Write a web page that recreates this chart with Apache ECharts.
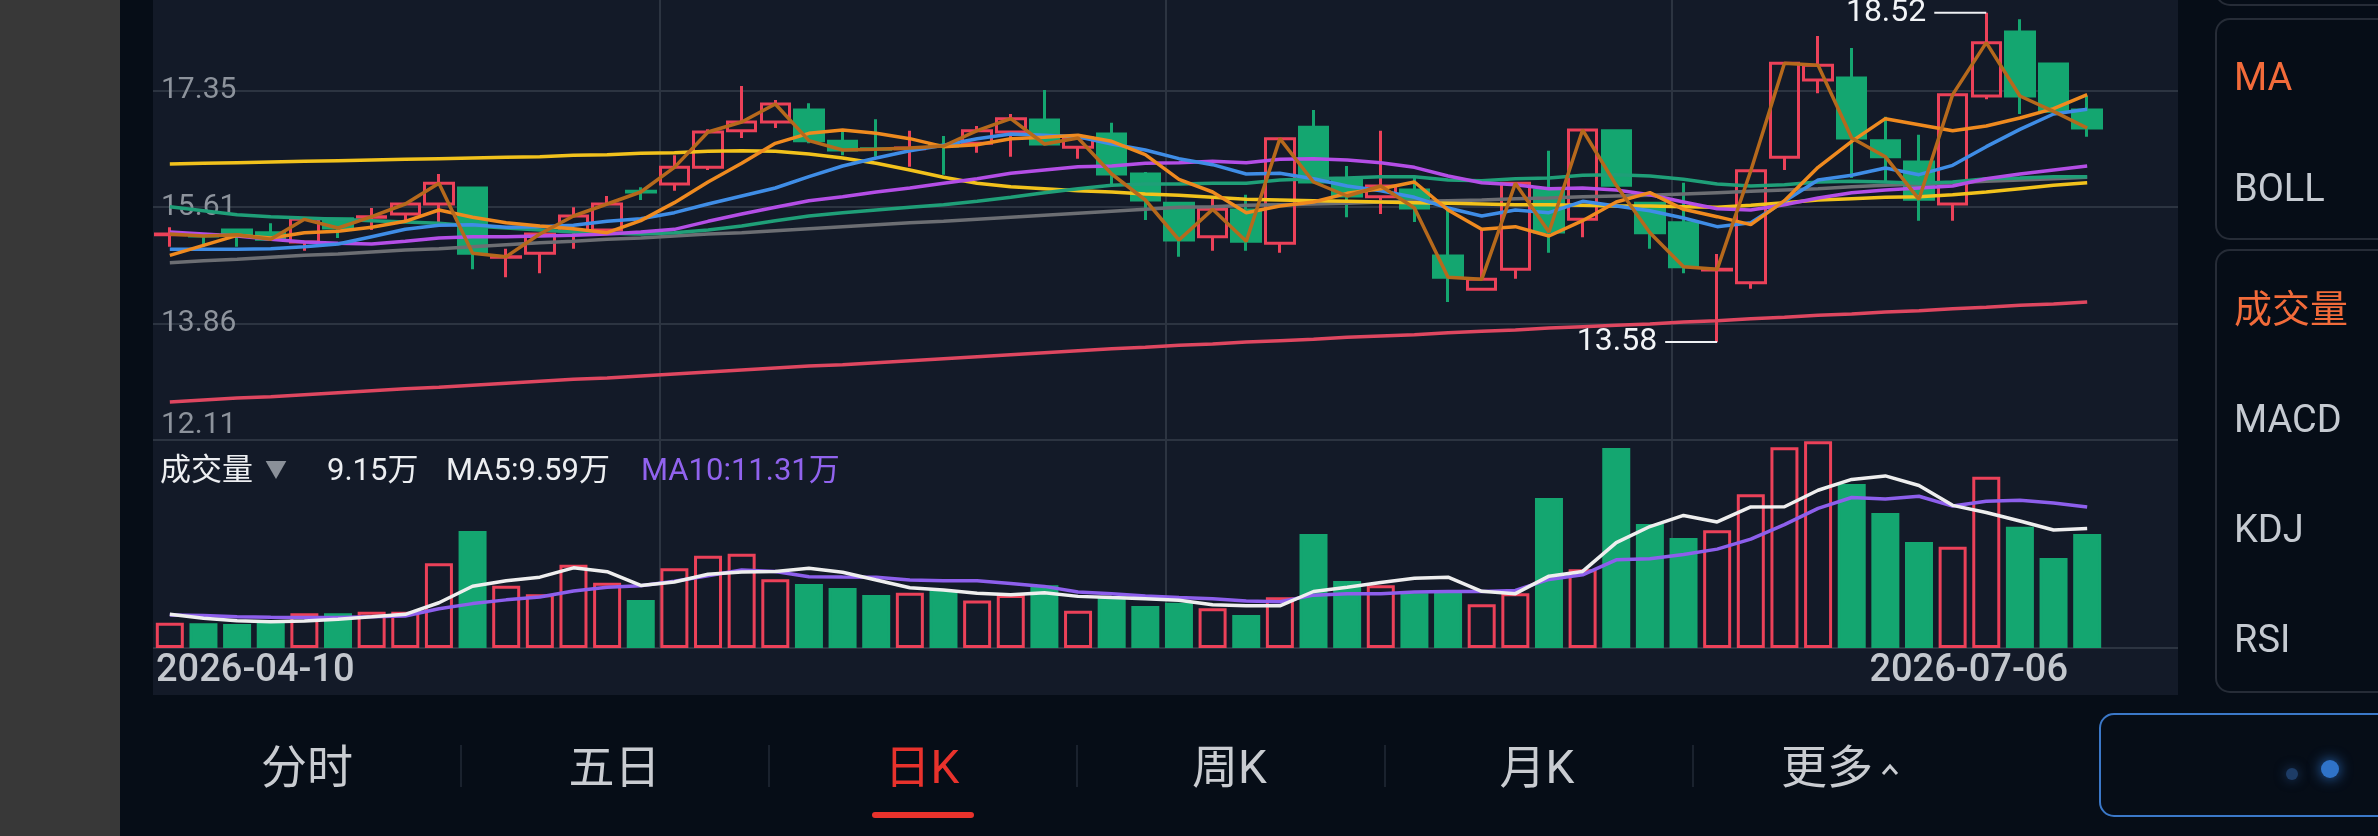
<!DOCTYPE html>
<html lang="zh-CN">
  <head>
    <meta charset="UTF-8" />
    <title>日K 成交量</title>
    <script src="https://cdn.jsdelivr.net/npm/echarts@6/dist/echarts.min.js"></script>
    <style>
      html, body { margin: 0; padding: 0; background: #060d17; }
      #app { width: 2378px; height: 836px; }
    </style>
  </head>
  <body>
    <div id="app"></div>
    <script>
      // trading days shown on screen
      const dates = [
        "2026-04-10", "2026-04-13", "2026-04-14", "2026-04-15", "2026-04-16", "2026-04-17",
        "2026-04-20", "2026-04-21", "2026-04-22", "2026-04-23", "2026-04-24", "2026-04-27",
        "2026-04-28", "2026-04-29", "2026-04-30", "2026-05-06", "2026-05-07", "2026-05-08",
        "2026-05-11", "2026-05-12", "2026-05-13", "2026-05-14", "2026-05-15", "2026-05-18",
        "2026-05-19", "2026-05-20", "2026-05-21", "2026-05-22", "2026-05-25", "2026-05-26",
        "2026-05-27", "2026-05-28", "2026-05-29", "2026-06-01", "2026-06-02", "2026-06-03",
        "2026-06-04", "2026-06-05", "2026-06-08", "2026-06-09", "2026-06-10", "2026-06-11",
        "2026-06-12", "2026-06-15", "2026-06-16", "2026-06-17", "2026-06-18", "2026-06-22",
        "2026-06-23", "2026-06-24", "2026-06-25", "2026-06-26", "2026-06-29", "2026-06-30",
        "2026-07-01", "2026-07-02", "2026-07-03", "2026-07-06"
      ];

      const opens = [15.19, 15.19, 15.26, 15.22, 15.08, 15.43, 15.45, 15.50, 15.65, 15.89,
        14.85, 14.91, 15.25, 15.26, 15.84, 15.95, 16.20, 16.75, 16.88, 17.06,
        16.59, 16.48, 16.48, 16.53, 16.56, 16.73, 16.91, 16.50, 16.70, 16.10,
        15.66, 15.16, 15.56, 15.06, 16.80, 16.01, 15.76, 15.86, 14.87, 14.37,
        14.67, 15.86, 15.42, 16.75, 15.66, 15.37, 14.66, 14.47, 16.35, 17.51,
        17.54, 16.60, 16.28, 15.65, 17.27, 18.23, 17.75, 17.06];
      const highs = [15.30, 15.20, 15.26, 15.36, 15.45, 15.43, 15.59, 15.65, 16.10, 15.89,
        14.98, 15.20, 15.60, 15.77, 15.90, 16.38, 16.77, 17.42, 17.21, 17.16,
        16.75, 16.92, 16.75, 16.67, 16.82, 17.00, 17.36, 16.70, 16.87, 16.13,
        15.68, 15.73, 15.79, 16.63, 17.06, 16.22, 16.75, 16.04, 15.56, 15.26,
        15.97, 16.45, 16.76, 16.75, 15.67, 15.97, 14.90, 16.15, 17.76, 18.17,
        17.99, 16.96, 16.69, 17.29, 18.52, 18.42, 17.75, 17.27];
      const lows = [15.01, 15.01, 15.01, 15.12, 14.95, 15.14, 15.26, 15.41, 15.38, 14.67,
        14.55, 14.61, 14.98, 15.26, 15.71, 15.85, 16.16, 16.64, 16.79, 16.56,
        16.38, 16.36, 16.21, 16.09, 16.42, 16.36, 16.55, 16.33, 15.91, 15.41,
        14.86, 14.95, 14.95, 14.92, 15.98, 15.45, 15.50, 15.38, 14.18, 14.37,
        14.53, 14.92, 15.15, 15.93, 14.98, 14.61, 13.58, 14.38, 16.16, 17.31,
        16.04, 15.98, 15.40, 15.40, 17.22, 17.00, 17.04, 16.66];
      const closes = [15.20, 15.17, 15.19, 15.12, 15.42, 15.29, 15.46, 15.65, 15.96, 14.91,
        14.86, 15.20, 15.47, 15.65, 15.83, 16.20, 16.73, 16.88, 17.15, 16.60,
        16.46, 16.47, 16.49, 16.52, 16.75, 16.93, 16.55, 16.64, 16.10, 15.71,
        15.11, 15.57, 15.09, 16.63, 15.98, 15.77, 15.92, 15.59, 14.55, 14.52,
        15.96, 15.23, 16.76, 15.93, 15.22, 14.71, 14.67, 16.15, 17.76, 17.73,
        16.64, 16.36, 15.72, 17.29, 18.07, 17.27, 17.04, 16.79];

      const ma5 = [14.88, 15.03, 15.18, 15.14, 15.22, 15.24, 15.30, 15.39, 15.56, 15.45,
        15.37, 15.32, 15.28, 15.22, 15.40, 15.67, 15.98, 16.26, 16.56, 16.71,
        16.76, 16.71, 16.63, 16.51, 16.54, 16.63, 16.65, 16.68, 16.59, 16.39,
        16.02, 15.83, 15.52, 15.62, 15.68, 15.81, 15.88, 15.98, 15.56, 15.27,
        15.31, 15.17, 15.40, 15.68, 15.82, 15.57, 15.46, 15.34, 15.70, 16.20,
        16.59, 16.93, 16.84, 16.75, 16.82, 16.94, 17.08, 17.29];
      const ma10 = [14.97, 14.97, 14.97, 14.98, 15.01, 15.05, 15.16, 15.27, 15.33, 15.34,
        15.30, 15.31, 15.33, 15.39, 15.43, 15.52, 15.65, 15.77, 15.89, 16.06,
        16.22, 16.34, 16.45, 16.53, 16.63, 16.70, 16.68, 16.66, 16.55, 16.46,
        16.33, 16.24, 16.10, 16.11, 16.03, 15.92, 15.85, 15.75, 15.59, 15.47,
        15.56, 15.52, 15.69, 15.62, 15.55, 15.44, 15.31, 15.37, 15.69, 16.01,
        16.08, 16.19, 16.09, 16.23, 16.51, 16.77, 17.00, 17.07];
      const ma20 = [15.23, 15.20, 15.17, 15.12, 15.08, 15.06, 15.05, 15.09, 15.14, 15.16,
        15.16, 15.17, 15.18, 15.20, 15.23, 15.27, 15.39, 15.50, 15.60, 15.70,
        15.76, 15.83, 15.89, 15.96, 16.03, 16.11, 16.16, 16.21, 16.22, 16.26,
        16.27, 16.29, 16.27, 16.32, 16.33, 16.31, 16.27, 16.20, 16.07, 15.97,
        15.94, 15.88, 15.89, 15.86, 15.79, 15.68, 15.58, 15.56, 15.64, 15.74,
        15.82, 15.86, 15.89, 15.92, 16.03, 16.10, 16.16, 16.22];
      const ma30 = [15.61, 15.55, 15.49, 15.46, 15.44, 15.42, 15.40, 15.38, 15.36, 15.32,
        15.29, 15.26, 15.23, 15.21, 15.20, 15.22, 15.26, 15.32, 15.40, 15.47,
        15.52, 15.56, 15.60, 15.64, 15.69, 15.75, 15.82, 15.88, 15.93, 15.95,
        15.95, 15.96, 15.96, 16.01, 16.03, 16.04, 16.06, 16.06, 16.01, 16.00,
        16.03, 16.04, 16.08, 16.09, 16.07, 16.02, 15.95, 15.92, 15.94, 15.98,
        15.99, 15.98, 15.96, 15.98, 16.03, 16.04, 16.06, 16.06];
      const ma60 = [14.77, 14.80, 14.82, 14.85, 14.88, 14.90, 14.93, 14.96, 14.98, 15.01,
        15.04, 15.07, 15.09, 15.12, 15.14, 15.17, 15.20, 15.22, 15.25, 15.28,
        15.31, 15.34, 15.37, 15.39, 15.42, 15.45, 15.48, 15.51, 15.54, 15.57,
        15.60, 15.61, 15.63, 15.64, 15.65, 15.66, 15.68, 15.69, 15.70, 15.71,
        15.73, 15.74, 15.76, 15.77, 15.78, 15.80, 15.82, 15.84, 15.86, 15.88,
        15.91, 15.93, 15.95, 15.97, 15.99, 16.01, 16.03, 16.05];
      const ma120 = [16.25, 16.26, 16.27, 16.28, 16.29, 16.30, 16.31, 16.32, 16.33, 16.34,
        16.35, 16.36, 16.38, 16.39, 16.41, 16.42, 16.44, 16.45, 16.44, 16.40,
        16.34, 16.26, 16.16, 16.05, 15.96, 15.91, 15.88, 15.85, 15.83, 15.80,
        15.78, 15.75, 15.72, 15.71, 15.70, 15.69, 15.68, 15.67, 15.66, 15.65,
        15.64, 15.64, 15.63, 15.62, 15.62, 15.61, 15.60, 15.63, 15.67, 15.71,
        15.73, 15.75, 15.76, 15.79, 15.83, 15.88, 15.93, 15.97];
      const ma250 = [12.68, 12.71, 12.74, 12.76, 12.79, 12.82, 12.85, 12.88, 12.90, 12.93,
        12.96, 12.99, 13.02, 13.04, 13.07, 13.10, 13.13, 13.16, 13.19, 13.22,
        13.24, 13.27, 13.30, 13.33, 13.36, 13.39, 13.42, 13.45, 13.48, 13.50,
        13.53, 13.55, 13.58, 13.60, 13.62, 13.65, 13.67, 13.69, 13.72, 13.74,
        13.76, 13.79, 13.81, 13.83, 13.85, 13.88, 13.90, 13.93, 13.95, 13.98,
        14.00, 14.03, 14.05, 14.08, 14.10, 14.13, 14.15, 14.18];

      // volume in 万
      const volumes = [2.03, 1.98, 1.92, 2.11, 2.78, 2.78, 2.91, 2.91, 6.79, 9.38,
        5.00, 4.31, 6.68, 5.24, 3.85, 6.39, 7.40, 7.56, 5.51, 5.13,
        4.81, 4.25, 4.44, 4.65, 3.80, 4.25, 5.03, 2.99, 4.12, 3.37,
        3.63, 3.18, 2.65, 4.07, 9.14, 5.37, 5.03, 4.39, 4.47, 3.50,
        4.39, 12.03, 6.31, 16.04, 9.94, 8.82, 9.44, 12.33, 16.10, 16.58,
        13.15, 10.83, 8.50, 8.12, 13.74, 9.73, 7.22, 9.15];
      const volMa5 = [2.70, 2.38, 2.19, 2.11, 2.16, 2.31, 2.50, 2.70, 3.63, 4.95,
        5.40, 5.68, 6.43, 6.12, 5.02, 5.29, 5.91, 6.09, 6.14, 6.40,
        6.08, 5.45, 4.83, 4.66, 4.39, 4.28, 4.43, 4.14, 4.04, 3.95,
        3.83, 3.46, 3.39, 3.38, 4.53, 4.88, 5.25, 5.60, 5.68, 4.55,
        4.36, 5.76, 6.14, 8.45, 9.74, 10.63, 10.11, 11.31, 11.33, 12.65,
        13.52, 13.80, 13.03, 11.44, 10.87, 10.18, 9.46, 9.59];
      const volMa10 = [2.65, 2.60, 2.51, 2.47, 2.45, 2.45, 2.51, 2.57, 3.15, 3.56,
        3.86, 4.09, 4.57, 4.88, 4.99, 5.35, 5.80, 6.26, 6.13, 5.71,
        5.69, 5.68, 5.46, 5.40, 5.39, 5.18, 4.94, 4.49, 4.35, 4.17,
        4.05, 3.95, 3.77, 3.71, 4.24, 4.36, 4.36, 4.50, 4.53, 4.54,
        4.62, 5.50, 5.87, 7.07, 7.15, 7.49, 7.93, 8.73, 9.89, 11.20,
        12.07, 11.95, 12.17, 11.38, 11.76, 11.85, 11.63, 11.31];

      const priceTicks = ["12.11", "13.86", "15.61", "17.35", "19.10"];
      const tabs = ["分时", "五日", "日K", "周K", "月K", "更多"];
      const mainIndicators = ["MA", "BOLL"];
      const subIndicators = ["成交量", "MACD", "KDJ", "RSI"];

      const RED = "#ec4159";
      const GREEN = "#14a670";
      const GRID = "#2c3441";
      const FONT = 'Roboto, "Noto Sans CJK SC", sans-serif';

      const chart = echarts.init(document.getElementById("app"));

      function text(x, y, str, size, color, align, weight) {
        return {
          type: "text", x, y, z: 100, silent: true,
          style: {
            text: str, fill: color,
            font: (weight || "normal") + " " + size + "px " + FONT,
            textAlign: align || "left", textVerticalAlign: "middle",
            align: align || "left", verticalAlign: "middle"
          }
        };
      }

      function maLine(data, color, axis) {
        return {
          type: "line", data, xAxisIndex: axis, yAxisIndex: axis,
          symbol: "none", showSymbol: false, silent: true, animation: false,
          lineStyle: { color, width: 3.5 }, itemStyle: { color }, z: 3
        };
      }

      const last = dates.length - 1;
      const graphics = [
        { type: "rect", z: -10, silent: true, shape: { x: 0, y: 0, width: 120, height: 836 }, style: { fill: "#383838" } },
        { type: "rect", z: -10, silent: true, shape: { x: 153, y: 0, width: 2025, height: 695 }, style: { fill: "#131a28" } },
        // indicator boxes
        { type: "rect", z: 1, silent: true, shape: { x: 2216, y: -60, width: 220, height: 65, r: 14 }, style: { fill: "none", stroke: "#262c37", lineWidth: 2 } },
        { type: "rect", z: 1, silent: true, shape: { x: 2216, y: 19, width: 220, height: 220, r: 14 }, style: { fill: "none", stroke: "#262c37", lineWidth: 2 } },
        { type: "rect", z: 1, silent: true, shape: { x: 2216, y: 250, width: 220, height: 442, r: 14 }, style: { fill: "none", stroke: "#262c37", lineWidth: 2 } },
        // volume header
        text(160, 472, "成交量", 31, "#eceef1"),
        text(276, 471, "▼", 22, "#8a9099", "center"),
        text(327, 472, volumes[last].toFixed(2) + "万", 31, "#eceef1"),
        text(446, 472, "MA5:" + volMa5[last].toFixed(2) + "万", 31, "#eceef1"),
        text(641, 472, "MA10:" + volMa10[last].toFixed(2) + "万", 31, "#9163ee"),
        // first / last date
        text(156, 671, dates[0], 38, "#c3c7cd", "left", 500),
        text(2068, 671, dates[last], 38, "#c3c7cd", "right", 500),
        // tab underline
        { type: "rect", z: 5, silent: true, shape: { x: 872, y: 812, width: 102, height: 6, r: 3 }, style: { fill: "#e8322c" } },
        // caret after 更多
        { type: "polyline", z: 5, silent: true, shape: { points: [[1883, 774], [1890, 766], [1897, 774]] }, style: { stroke: "#c9ccd1", lineWidth: 3, fill: "none" } },
        // bottom right box
        { type: "rect", z: 1, silent: true, shape: { x: 2100, y: 714, width: 300, height: 102, r: 14 }, style: { fill: "#060d17", stroke: "#3b78c8", lineWidth: 2 } },
        { type: "circle", z: 2, silent: true, shape: { cx: 2330, cy: 769, r: 9 }, style: { fill: "#2f73c8", shadowBlur: 14, shadowColor: "#2f73c8" } },
        { type: "circle", z: 2, silent: true, shape: { cx: 2292, cy: 774, r: 6 }, style: { fill: "#1d3c66", shadowBlur: 12, shadowColor: "#1d3c66" } }
      ];

      mainIndicators.forEach((t, i) => graphics.push(text(2234, 80 + i * 111, t, 38, i === 0 ? "#f26b3a" : "#c5cad1")));
      subIndicators.forEach((t, i) => graphics.push(text(2234, 312 + i * 110, t, 38, i === 0 ? "#f26b3a" : "#c5cad1")));
      tabs.forEach((t, i) => {
        const cx = i === tabs.length - 1 ? 1827 : 307 + i * 307.5;
        graphics.push(text(cx, 771, t, 46, t === "日K" ? "#e8322c" : "#c9ccd1", "center"));
        if (i < tabs.length - 1) {
          graphics.push({ type: "rect", z: 5, silent: true, shape: { x: 460 + i * 308, y: 745, width: 2, height: 42 }, style: { fill: "#1a222e" } });
        }
      });

      const hideAxis = { axisLine: { show: false }, axisTick: { show: false }, axisLabel: { show: false }, splitLine: { show: false } };
      const frameX = (gi) => ({
        type: "value", gridIndex: gi, min: 0, max: 4, interval: 1, silent: true,
        axisLine: { show: false }, axisTick: { show: false }, axisLabel: { show: false },
        splitLine: { show: true, lineStyle: { width: 2, color: ["rgba(0,0,0,0)", GRID, GRID, GRID, "rgba(0,0,0,0)"] } }
      });

      const labelStyle = { color: "#8d939c", fontSize: 30, fontFamily: FONT };

      const option = {
        backgroundColor: "#060d17",
        animation: false,
        graphic: graphics,
        grid: [
          { left: 153, top: -26, width: 1951, height: 466, outerBoundsMode: "none" },
          { left: 153, top: 441, width: 1951, height: 207, outerBoundsMode: "none" },
          { left: 153, top: -26, width: 2025, height: 466, outerBoundsMode: "none" },
          { left: 153, top: 440, width: 2025, height: 208, outerBoundsMode: "none" }
        ],
        xAxis: [
          Object.assign({ type: "category", gridIndex: 0, data: dates, boundaryGap: true }, hideAxis),
          Object.assign({ type: "category", gridIndex: 1, data: dates, boundaryGap: true }, hideAxis),
          frameX(2),
          frameX(3)
        ],
        yAxis: [
          {
            type: "value", gridIndex: 0, min: 12.11, max: 19.10, interval: 1.7475,
            axisLine: { show: false }, axisTick: { show: false }, splitLine: { show: false },
            axisLabel: Object.assign({
              inside: true, margin: 8,
              formatter: (v, i) => {
                if (i === 0) return "{lo|" + priceTicks[0] + "}";
                if (i === priceTicks.length - 1) return "{hi|" + priceTicks[i] + "}";
                return priceTicks[i] || "";
              },
              rich: {
                lo: Object.assign({ padding: [0, 0, 30, 0] }, labelStyle),
                hi: Object.assign({ padding: [36, 0, 0, 0] }, labelStyle)
              }
            }, labelStyle)
          },
          Object.assign({ type: "value", gridIndex: 1, min: 0, max: 16.6 }, hideAxis),
          {
            type: "value", gridIndex: 2, min: 0, max: 4, interval: 1, silent: true,
            axisLine: { show: false }, axisTick: { show: false }, axisLabel: { show: false },
            splitLine: { show: true, lineStyle: { width: 2, color: GRID } }
          },
          {
            type: "value", gridIndex: 3, min: 0, max: 1, interval: 1, silent: true,
            axisLine: { show: false }, axisTick: { show: false }, axisLabel: { show: false },
            splitLine: { show: true, lineStyle: { width: 2, color: GRID } }
          }
        ],
        series: [
          {
            type: "candlestick", xAxisIndex: 0, yAxisIndex: 0, barWidth: 29, silent: true,
            data: dates.map((d, i) => [opens[i], closes[i], lows[i], highs[i]]),
            itemStyle: { color: "transparent", color0: GREEN, borderColor: RED, borderColor0: GREEN, borderWidth: 3 },
            markPoint: {
              silent: true, symbol: "rect", symbolSize: [52, 2],
              itemStyle: { color: "#eef0f3" },
              label: {
                show: true, position: "left", distance: 8, color: "#f2f4f7",
                fontSize: 32, fontFamily: FONT,
                formatter: (p) => Number(p.value).toFixed(2)
              },
              data: [
                { type: "max", valueDim: "highest", symbolOffset: [-26, 0] },
                { type: "min", valueDim: "lowest", symbolOffset: [-26, 0] }
              ]
            }
          },
          maLine(ma250, "#df4760", 0),
          maLine(ma60, "#6c6e73", 0),
          maLine(ma120, "#f2c21c", 0),
          maLine(ma30, "#1f9f78", 0),
          maLine(ma20, "#b44ee6", 0),
          maLine(ma10, "#3f8de6", 0),
          maLine(ma5, "#ef8a1f", 0),
          maLine(closes, "#b6691c", 0),
          {
            type: "bar", xAxisIndex: 1, yAxisIndex: 1, barWidth: 28, silent: true,
            data: volumes.map((v, i) => ({
              value: v,
              itemStyle: closes[i] >= opens[i]
                ? { color: "transparent", borderColor: RED, borderWidth: 3 }
                : { color: GREEN, borderColor: GREEN, borderWidth: 3 }
            }))
          },
          maLine(volMa10, "#8d5fec", 1),
          maLine(volMa5, "#eeeeee", 1)
        ]
      };

      chart.setOption(option);
    </script>
  </body>
</html>
